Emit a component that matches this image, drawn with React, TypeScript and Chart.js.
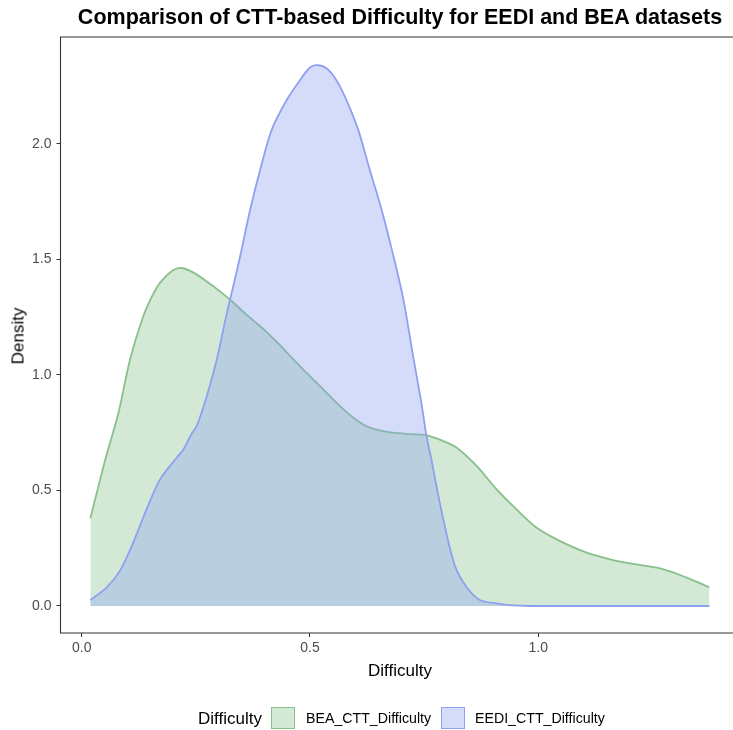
import { useEffect, useRef } from 'react';
import { Chart, registerables } from 'chart.js';

Chart.register(...registerables);

// BEA_CTT_Difficulty density curve
const beaX = [0.019, 0.048, 0.058, 0.077, 0.084, 0.106, 0.135, 0.154, 0.172, 0.200, 0.219, 0.244, 0.274, 0.303, 0.329, 0.361, 0.391, 0.412, 0.434, 0.449, 0.485, 0.522, 0.558, 0.595, 0.631, 0.682, 0.720, 0.755, 0.792, 0.821, 0.865, 0.909, 0.952, 0.996, 1.047, 1.105, 1.164, 1.222, 1.273, 1.324, 1.375];
const beaY = [0.380, 0.606, 0.678, 0.808, 0.865, 1.067, 1.254, 1.340, 1.400, 1.453, 1.463, 1.444, 1.405, 1.362, 1.319, 1.261, 1.211, 1.172, 1.130, 1.098, 1.024, 0.952, 0.880, 0.815, 0.772, 0.750, 0.744, 0.740, 0.714, 0.686, 0.606, 0.505, 0.419, 0.340, 0.282, 0.232, 0.199, 0.178, 0.160, 0.124, 0.081];

// EEDI_CTT_Difficulty density curve
const eediX = [0.019, 0.055, 0.084, 0.113, 0.143, 0.172, 0.208, 0.223, 0.240, 0.252, 0.274, 0.296, 0.318, 0.332, 0.347, 0.369, 0.391, 0.416, 0.449, 0.478, 0.500, 0.515, 0.537, 0.558, 0.580, 0.606, 0.631, 0.657, 0.679, 0.704, 0.726, 0.744, 0.755, 0.766, 0.777, 0.792, 0.817, 0.843, 0.872, 0.909, 0.938, 0.970, 1.000, 1.100, 1.200, 1.300, 1.375];
const eediY = [0.026, 0.081, 0.153, 0.275, 0.423, 0.549, 0.642, 0.678, 0.743, 0.779, 0.908, 1.067, 1.269, 1.384, 1.513, 1.715, 1.888, 2.060, 2.190, 2.276, 2.331, 2.341, 2.327, 2.276, 2.190, 2.060, 1.888, 1.715, 1.546, 1.334, 1.081, 0.881, 0.739, 0.635, 0.520, 0.376, 0.177, 0.082, 0.026, 0.011, 0.004, 0.001, 0, 0, 0, 0, 0];

const xTicks = [0, 0.5, 1.0];
const yTicks = [0, 0.5, 1.0, 1.5, 2.0];

const seriesNames = ['BEA_CTT_Difficulty', 'EEDI_CTT_Difficulty'];
const titleText = 'Comparison of CTT-based Difficulty for EEDI and BEA datasets';
const xTitle = 'Difficulty';
const yTitle = 'Density';
const legendTitle = 'Difficulty';

const GREEN_LINE = 'rgb(135,192,138)';
const GREEN_FILL = 'rgba(135,195,140,0.37)';
const BLUE_LINE = 'rgb(142,160,240)';
const BLUE_FILL = 'rgba(140,160,240,0.37)';

const FONT = '"Liberation Sans", Arial, Helvetica, sans-serif';

const panelBorder = {
  id: 'panelBorder',
  afterDraw(chart: any) {
    const { ctx, chartArea: a } = chart;
    ctx.save();
    ctx.strokeStyle = '#333333';
    ctx.lineWidth = 1.1;
    ctx.beginPath();
    ctx.moveTo(a.right + 10, a.top);
    ctx.lineTo(a.left, a.top);
    ctx.lineTo(a.left, a.bottom);
    ctx.lineTo(a.right + 10, a.bottom);
    ctx.stroke();
    ctx.restore();
  },
};

export default function App() {
  const ref = useRef<HTMLCanvasElement | null>(null);

  useEffect(() => {
    if (!ref.current) return;
    const chart = new Chart(ref.current, {
      type: 'line',
      data: {
        datasets: [
          {
            label: seriesNames[0],
            data: beaX.map((x, i) => ({ x, y: beaY[i] })),
            borderColor: GREEN_LINE,
            backgroundColor: GREEN_FILL,
            borderWidth: 1.8,
            fill: 'origin',
            pointRadius: 0,
            tension: 0.3,
            order: 1,
          },
          {
            label: seriesNames[1],
            data: eediX.map((x, i) => ({ x, y: eediY[i] })),
            borderColor: BLUE_LINE,
            backgroundColor: BLUE_FILL,
            borderWidth: 1.8,
            fill: 'origin',
            pointRadius: 0,
            tension: 0.3,
            order: 0,
          },
        ],
      },
      options: {
        animation: false,
        responsive: false,
        layout: { padding: { top: 37, left: 0, right: 0, bottom: 0 } },
        plugins: {
          legend: { display: false },
          title: { display: false },
          tooltip: { enabled: false },
        },
        scales: {
          x: {
            type: 'linear',
            min: -0.0464,
            max: 1.4267,
            afterBuildTicks: (s: any) => {
              s.ticks = xTicks.map((v) => ({ value: v }));
            },
            afterFit: (s: any) => {
              s.height = 97;
            },
            ticks: {
              autoSkip: false,
              maxRotation: 0,
              padding: 3,
              color: '#4d4d4d',
              font: { family: FONT, size: 14 },
              callback: (v: any) => Number(v).toFixed(1),
            },
            grid: {
              display: true,
              drawOnChartArea: false,
              drawTicks: true,
              tickLength: 4,
              tickColor: '#333333',
              tickWidth: 1,
            },
            border: { display: false },
          },
          y: {
            type: 'linear',
            min: -0.1169,
            max: 2.463,
            afterBuildTicks: (s: any) => {
              s.ticks = yTicks.map((v) => ({ value: v }));
            },
            afterFit: (s: any) => {
              s.width = 60.5;
            },
            ticks: {
              autoSkip: false,
              padding: 5,
              color: '#4d4d4d',
              font: { family: FONT, size: 14 },
              callback: (v: any) => Number(v).toFixed(1),
            },
            grid: {
              display: true,
              drawOnChartArea: false,
              drawTicks: true,
              tickLength: 4,
              tickColor: '#333333',
              tickWidth: 1,
            },
            border: { display: false },
          },
        },
      },
      plugins: [panelBorder],
    } as any);
    return () => chart.destroy();
  }, []);

  const abs = (extra: any) => ({ position: 'absolute' as const, whiteSpace: 'nowrap' as const, fontFamily: FONT, lineHeight: 1, ...extra });

  return (
    <div style={{ position: 'fixed', left: 0, top: 0, width: 733, height: 730, overflow: 'hidden', background: '#ffffff' }}>
      <canvas ref={ref} width={733} height={730} style={{ position: 'absolute', left: 0, top: 0, width: 733, height: 730 }} />
      <div style={abs({ left: 400, top: 7, transform: 'translateX(-50%)', fontSize: 21.5, fontWeight: 'bold', color: '#000' })}>{titleText}</div>
      <div style={abs({ left: 400, top: 662, transform: 'translateX(-50%)', fontSize: 17, color: '#000' })}>{xTitle}</div>
      <div style={abs({ left: 18, top: 336, transform: 'translate(-50%, -50%) rotate(-90deg)', fontSize: 17, color: '#000' })}>{yTitle}</div>
      <div style={abs({ left: 198, top: 710, fontSize: 17, color: '#000' })}>{legendTitle}</div>
      <div style={{ position: 'absolute', left: 271, top: 707, width: 24, height: 22, boxSizing: 'border-box', background: GREEN_FILL, border: `1.5px solid ${GREEN_LINE}` }} />
      <div style={abs({ left: 306, top: 711, fontSize: 14.2, color: '#000' })}>{seriesNames[0]}</div>
      <div style={{ position: 'absolute', left: 441, top: 707, width: 24, height: 22, boxSizing: 'border-box', background: BLUE_FILL, border: `1.5px solid ${BLUE_LINE}` }} />
      <div style={abs({ left: 475, top: 711, fontSize: 14.2, color: '#000' })}>{seriesNames[1]}</div>
    </div>
  );
}
